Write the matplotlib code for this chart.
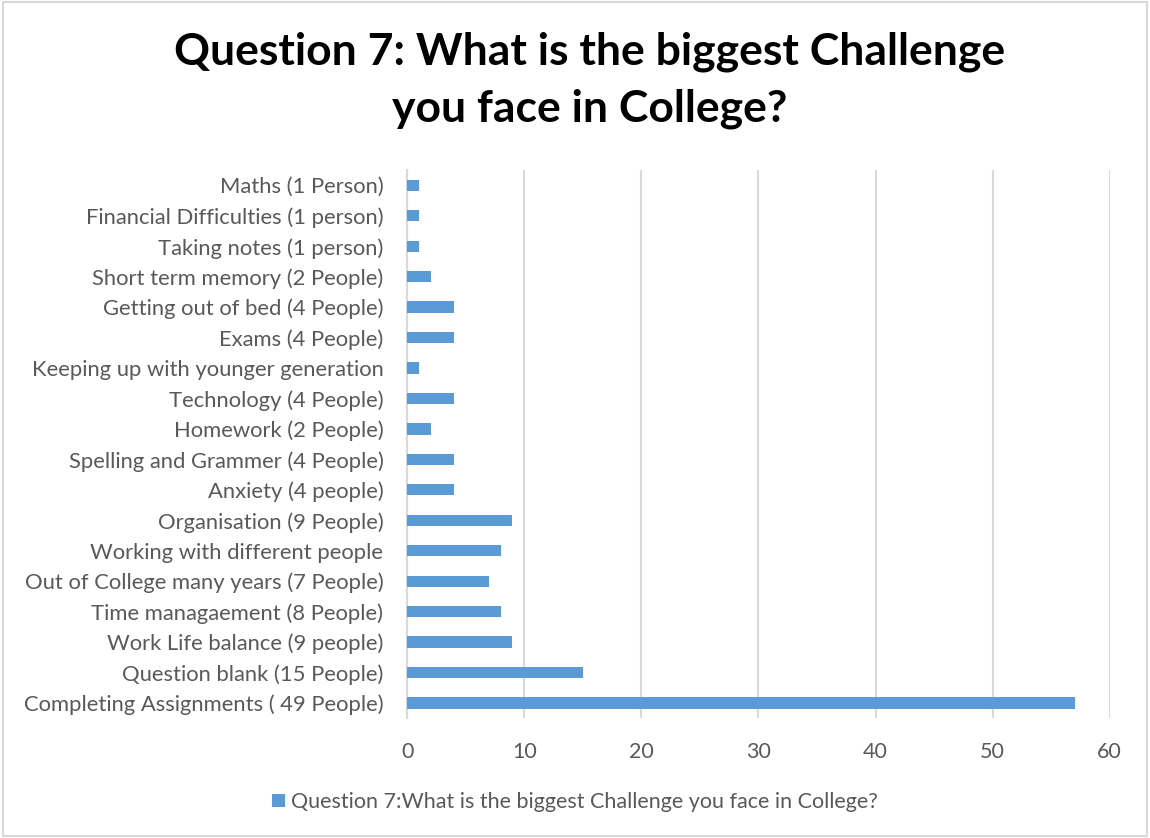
import matplotlib.pyplot as plt
from matplotlib.patches import Rectangle

# Survey answers, listed bottom to top as they appear on the chart
categories = [
    "Completing Assignments ( 49 People)",
    "Question blank (15 People)",
    "Work Life balance (9 people)",
    "Time managaement (8 People)",
    "Out of College many years (7 People)",
    "Working with different people",
    "Organisation (9 People)",
    "Anxiety (4 people)",
    "Spelling and Grammer (4 People)",
    "Homework (2 People)",
    "Technology (4 People)",
    "Keeping up with younger generation",
    "Exams (4 People)",
    "Getting out of bed (4 People)",
    "Short term memory (2 People)",
    "Taking notes (1 person)",
    "Financial Difficulties (1 person)",
    "Maths (1 Person)",
]
counts = [57, 15, 9, 8, 7, 8, 9, 4, 4, 2, 4, 1, 4, 4, 2, 1, 1, 1]
x_ticks = [0, 10, 20, 30, 40, 50, 60]

series_name = "Question 7:What is the biggest Challenge you face in College?"
title = "Question 7: What is the biggest Challenge\nyou face in College?"

bar_color = "#5b9bd5"
text_color = "#595959"
grid_color = "#d9d9d9"

plt.rcParams["font.family"] = ["Lato", "DejaVu Sans"]

fig = plt.figure(figsize=(11.5, 8.38), dpi=100)
ax = fig.add_axes([0.354, 0.143, 0.611, 0.654])

positions = list(range(len(categories)))
ax.barh(positions, counts, height=0.37, color=bar_color, zorder=3,
        label=series_name)

ax.set_ylim(-0.5, len(categories) - 0.5)
ax.set_xlim(0, 60)
ax.set_yticks(positions)
ax.set_yticklabels(categories, fontsize=15.8, color=text_color)
ax.set_xticks(x_ticks)
ax.set_xticklabels([str(t) for t in x_ticks], fontsize=15.5, color=text_color)
ax.tick_params(axis="both", length=0)
ax.tick_params(axis="y", pad=17)
ax.tick_params(axis="x", pad=17)

ax.grid(axis="x", color=grid_color, linewidth=1.5, zorder=0)
for side in ["top", "right", "bottom"]:
    ax.spines[side].set_visible(False)
ax.spines["left"].set_color(grid_color)
ax.spines["left"].set_linewidth(1.5)

fig.suptitle(title, fontsize=32, fontweight="bold", color="black",
             x=0.513, y=0.962, linespacing=1.5)

fig.legend(loc="center", bbox_to_anchor=(0.5, 0.043), frameon=False,
           fontsize=15.5, labelcolor=text_color, handlelength=0.6,
           handleheight=0.6, handletextpad=0.25)

# thin outline around the whole chart area
fig.patches.append(Rectangle((0.003, 0.002), 0.994, 0.996,
                             transform=fig.transFigure, fill=False,
                             edgecolor="#d9d9d9", linewidth=1.5))

fig.savefig("out.png", dpi=100)
